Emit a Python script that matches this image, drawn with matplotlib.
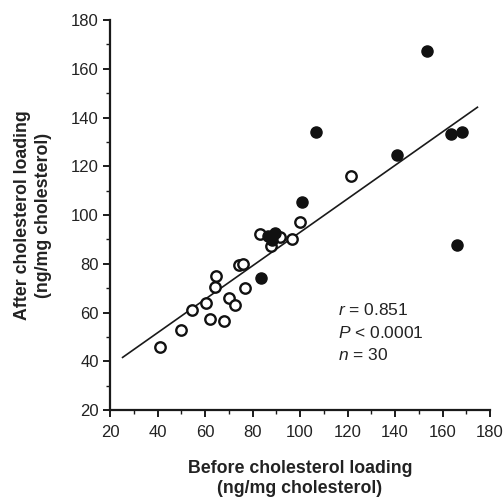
import numpy as np
import matplotlib.pyplot as plt
import matplotlib.ticker as ticker

# open circles
before_open = [41, 50, 54.5, 60.5, 62, 64.3, 64.7, 68, 70, 72.5, 74.5, 76, 77,
               83.3, 87.8, 91.7, 96.7, 100.2, 121.3]
after_open = [46, 53, 61, 64, 57.5, 70.5, 75, 56.5, 66, 63, 79.5, 80, 70,
              92.4, 87.2, 91, 90, 97.2, 116]

# filled circles
before_filled = [83.7, 86.7, 89.6, 88.4, 100.9, 106.9, 141, 153.6, 163.5, 168.2, 166]
after_filled = [74, 91.3, 92.5, 89.7, 105.3, 134, 124.7, 167.3, 133.4, 134, 87.6]

# regression line
fit_x = [25.3, 174.7]
slope, intercept = 0.687, 24.2

stats_text = ["$r$ = 0.851", "$P$ < 0.0001", "$n$ = 30"]

plt.rcParams['font.family'] = ['Liberation Sans', 'DejaVu Sans']
plt.rcParams['mathtext.fontset'] = 'custom'
plt.rcParams['mathtext.it'] = 'Liberation Sans:italic'
txt = '#222222'

fig = plt.figure(figsize=(5.03, 5.01), dpi=100)
ax = fig.add_axes([0.2187, 0.1816, 0.7555, 0.7784])

fx = np.array(fit_x)
ax.plot(fx, intercept + slope * fx, color='#1a1a1a', lw=1.2, zorder=1)

ax.plot(before_open, after_open, 'o', ms=7.5, mfc='white', mec='#111111',
        mew=1.7, ls='none', zorder=2)
ax.plot(before_filled, after_filled, 'o', ms=8, mfc='#111111', mec='#111111',
        mew=1.0, ls='none', zorder=3)

ax.set_xlim(20, 180)
ax.set_ylim(20, 180)
ax.xaxis.set_major_locator(ticker.MultipleLocator(20))
ax.yaxis.set_major_locator(ticker.MultipleLocator(20))
ax.xaxis.set_minor_locator(ticker.MultipleLocator(10))
ax.yaxis.set_minor_locator(ticker.MultipleLocator(10))

for s in ['top', 'right']:
    ax.spines[s].set_visible(False)
for s in ['left', 'bottom']:
    ax.spines[s].set_linewidth(1.6)
    ax.spines[s].set_color('#1a1a1a')

ax.tick_params(which='major', direction='out', length=5, width=1.4,
               colors='#1a1a1a', labelcolor=txt, labelsize=12, pad=3)
ax.tick_params(which='minor', direction='out', length=3, width=1.0,
               colors='#1a1a1a')
ax.tick_params(axis='x', pad=6)

ax.set_xlabel('Before cholesterol loading\n(ng/mg cholesterol)',
              fontsize=12.8, fontweight='bold', color=txt, labelpad=14,
              linespacing=1.25)
ax.set_ylabel('After cholesterol loading\n(ng/mg cholesterol)',
              fontsize=12.8, fontweight='bold', color=txt, labelpad=14,
              linespacing=1.25)

for i, t in enumerate(stats_text):
    ax.text(116.2, 61 - i * 9.3, t, fontsize=12.5, color=txt, va='center',
            ha='left')

fig.savefig('out.png', dpi=100)
